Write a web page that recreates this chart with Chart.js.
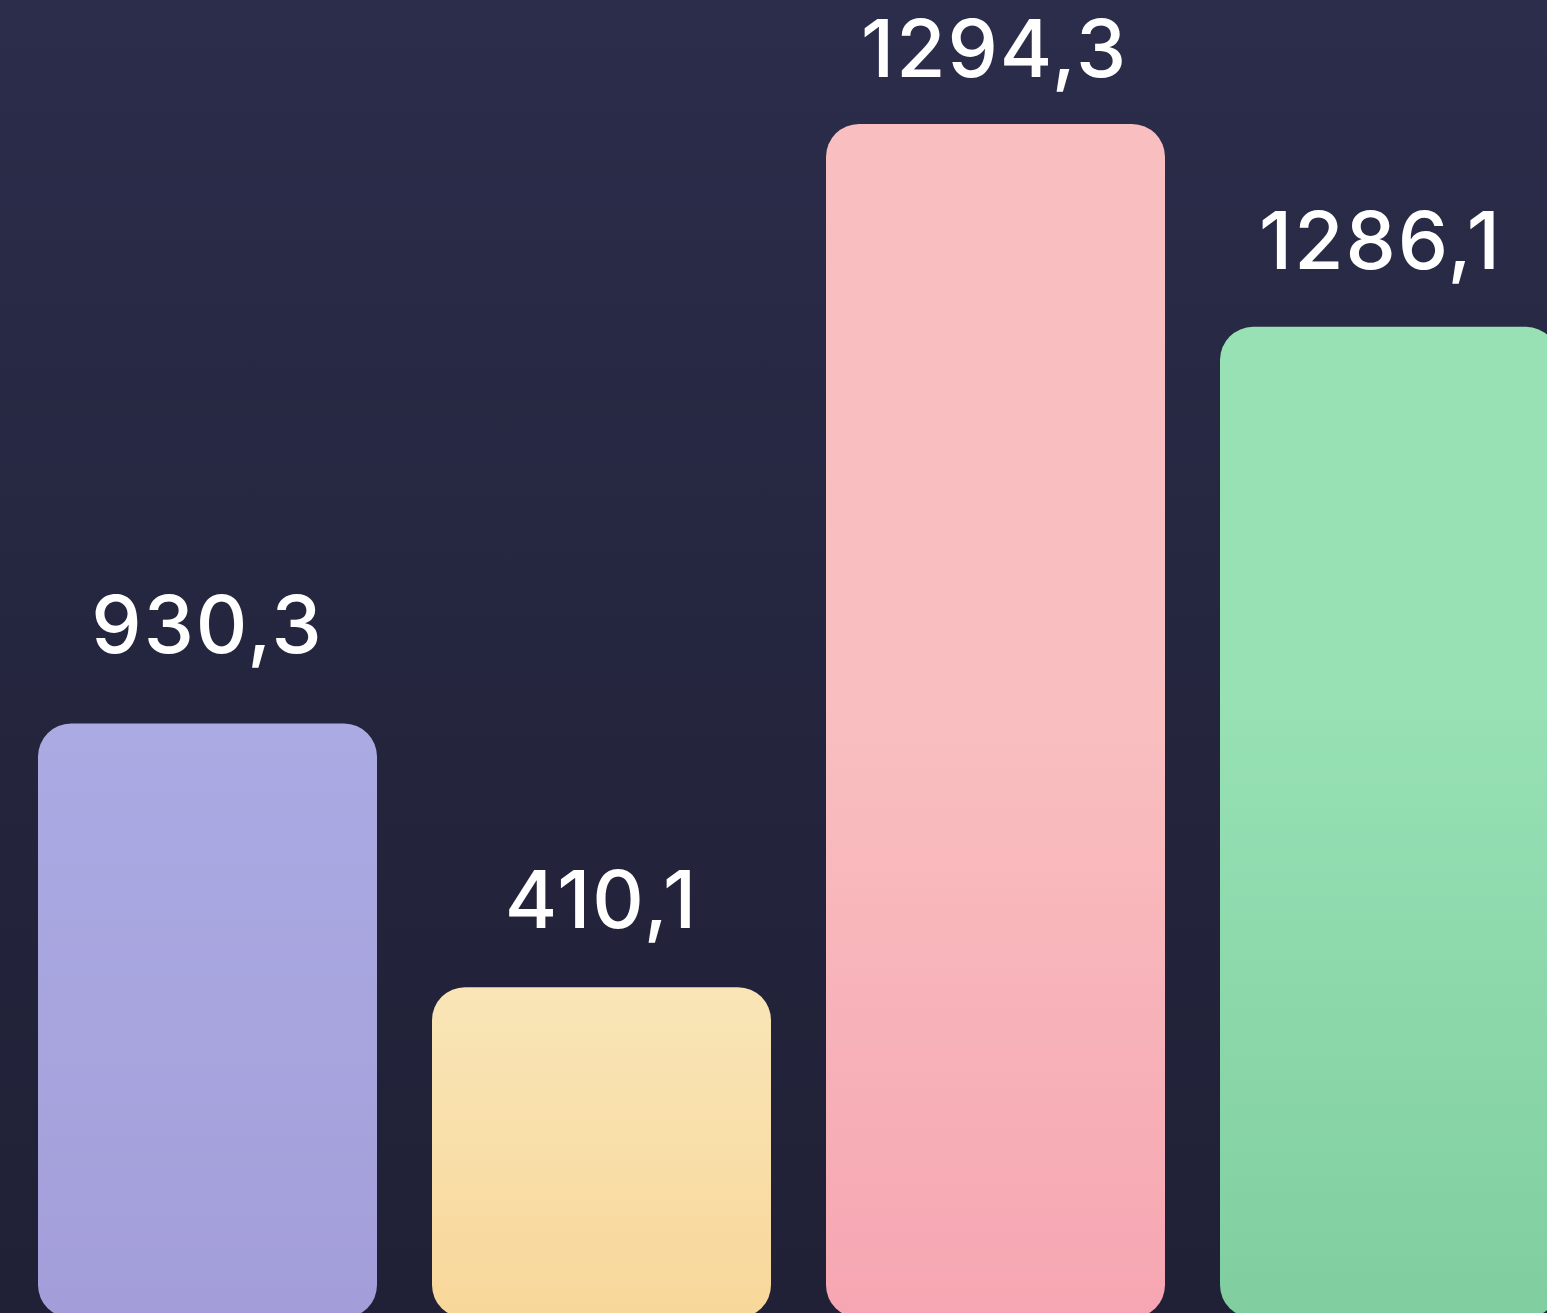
<!DOCTYPE html>
<html>
<head>
<meta charset="utf-8">
<script src="https://cdn.jsdelivr.net/npm/chart.js@4"></script>
<style>
  html, body {
    margin: 0;
    padding: 0;
    width: 1547px;
    height: 1313px;
    overflow: hidden;
    background: linear-gradient(180deg, #2c2d4b 0%, #25263f 45%, #202136 100%);
  }
  canvas { display: block; }
</style>
</head>
<body>
<canvas id="barChart" width="1590" height="1320"></canvas>
<script>
// Data

const categories = ['A', 'B', 'C', 'D']
const values = [930.3, 410.1, 1294.3, 1286.1]
// bar heights as drawn in the picture, in % of the plot height
const barHeights = [45.1, 25.1, 90.6, 75.2]
const valueLabels = ['930,3', '410,1', '1294,3', '1286,1']

const topColors = ['#abaae3', '#f9e5b7', '#f9bfc0', '#97e1b5']
const bottomColors = ['#a39ed9', '#f8d799', '#f6a6b2', '#80cea0']

// value labels above the bars
const valueLabelPlugin = {
    id: 'valueLabels',
    afterDatasetsDraw(chart, args, opts) {
        const ctx = chart.ctx
        const meta = chart.getDatasetMeta(0)
        ctx.save()
        ctx.fillStyle = '#ffffff'
        ctx.font = '500 80px Inter'
        ctx.letterSpacing = '2px'
        ctx.textAlign = 'center'
        ctx.textBaseline = 'alphabetic'
        meta.data.forEach((bar, i) => {
            ctx.fillText(valueLabels[i], bar.x + opts.dx[i], bar.y - opts.gap[i])
        })
        ctx.restore()
    }
}

function barGradient(context) {
    const chart = context.chart
    const i = context.dataIndex
    const area = chart.chartArea
    if (!area) return topColors[i]
    const yScale = chart.scales.y
    const top = yScale.getPixelForValue(barHeights[i])
    const start = Math.max(top, area.bottom - 620)
    const g = chart.ctx.createLinearGradient(0, start, 0, area.bottom)
    g.addColorStop(0, topColors[i])
    g.addColorStop(1, bottomColors[i])
    return g
}

const barChart = document.getElementById('barChart')

new Chart(barChart, {
    type: 'bar',
    data: {
        labels: categories,
        datasets: [
            {
                label: 'values',
                data: barHeights,
                backgroundColor: barGradient,
                borderRadius: 33,
                borderSkipped: false,
                barPercentage: 0.8604,
                categoryPercentage: 1
            }
        ]
    },
    options: {
        responsive: false,
        animation: false,
        devicePixelRatio: 1,
        layout: {
            padding: { left: 10.5, right: 3.5, top: 0, bottom: 2 }
        },
        scales: {
            x: { display: false },
            y: { display: false, min: 0, max: 100 }
        },
        plugins: {
            legend: { display: false },
            tooltip: { enabled: false },
            valueLabels: {
                gap: [71, 59, 47, 58],
                dx: [0, 0, -1, -9]
            }
        }
    },
    plugins: [valueLabelPlugin]
})
</script>
</body>
</html>
